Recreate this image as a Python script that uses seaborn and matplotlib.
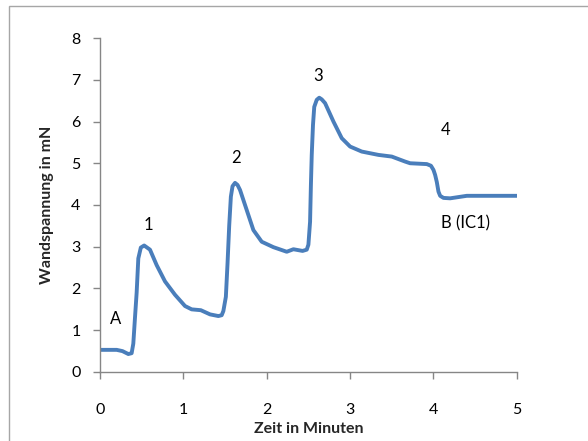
import matplotlib
matplotlib.use("Agg")
import matplotlib.pyplot as plt
import matplotlib.patches as patches
import seaborn as sns
import pandas as pd

# Wall tension trace over time
zeit = [0.00, 0.20, 0.27, 0.34, 0.38, 0.40, 0.42, 0.44, 0.46, 0.49, 0.53, 0.60,
        0.68, 0.78, 0.90, 1.02, 1.10, 1.21, 1.32, 1.42, 1.46, 1.48, 1.51, 1.53,
        1.55, 1.57, 1.59, 1.62, 1.65, 1.68, 1.76, 1.84, 1.94, 2.08, 2.24, 2.32,
        2.43, 2.48, 2.50, 2.52, 2.53, 2.54, 2.555, 2.57, 2.60, 2.63, 2.66, 2.70,
        2.80, 2.90, 3.00, 3.14, 3.34, 3.50, 3.66, 3.72, 3.92, 3.97, 4.00, 4.02,
        4.04, 4.06, 4.08, 4.12, 4.20, 4.40, 5.00]
spannung = [0.53, 0.53, 0.50, 0.43, 0.45, 0.68, 1.30, 1.90, 2.72, 2.98, 3.03, 2.93,
            2.56, 2.17, 1.85, 1.58, 1.50, 1.48, 1.38, 1.34, 1.36, 1.46, 1.80, 2.60,
            3.50, 4.20, 4.45, 4.53, 4.48, 4.36, 3.88, 3.40, 3.12, 2.99, 2.88, 2.94,
            2.90, 2.93, 3.05, 3.60, 4.48, 5.20, 5.92, 6.35, 6.52, 6.57, 6.53, 6.44,
            6.00, 5.60, 5.40, 5.28, 5.20, 5.16, 5.04, 5.00, 4.98, 4.94, 4.84, 4.72,
            4.55, 4.32, 4.22, 4.17, 4.16, 4.22, 4.22]

# Event annotations
marker_text = ["A", "1", "2", "3", "4", "B (IC1)"]
marker_x = [0.19, 0.58, 1.63, 2.62, 4.15, 4.38]
marker_y = [1.28, 3.52, 5.12, 7.08, 5.80, 3.55]

sns.set_theme(style="white")
plt.rcParams["font.family"] = ["Lato", "DejaVu Sans"]

df = pd.DataFrame({"Zeit": zeit, "Spannung": spannung})

fig = plt.figure(figsize=(5.88, 4.41), dpi=100)
ax = fig.add_axes([0.170, 0.1565, 0.709, 0.7573])

line_color = "#4A7EBB"
sns.lineplot(data=df, x="Zeit", y="Spannung", sort=False, ax=ax,
             color=line_color, linewidth=2.8, solid_joinstyle="round",
             solid_capstyle="round")

for t, x, y in zip(marker_text, marker_x, marker_y):
    ax.text(x, y, t, ha="center", va="center", fontsize=12, color="black")

ax.set_xlim(0, 5)
ax.set_ylim(0, 8)
ax.set_xticks(range(0, 6))
ax.set_yticks(range(0, 9))

axis_gray = "#868686"
for side in ["top", "right"]:
    ax.spines[side].set_visible(False)
for side in ["left", "bottom"]:
    ax.spines[side].set_color(axis_gray)
    ax.spines[side].set_linewidth(1.0)

ax.tick_params(axis="x", direction="out", length=5, width=1, color=axis_gray,
               pad=17, labelsize=11.5, labelcolor="black", bottom=True)
ax.tick_params(axis="y", direction="out", length=5, width=1, color=axis_gray,
               pad=9, labelsize=11.5, labelcolor="black", left=True)

ax.set_xlabel("Zeit in Minuten", fontsize=11.5, fontweight="bold", labelpad=4)
ax.set_ylabel("Wandspannung in mN", fontsize=11.5, fontweight="bold", labelpad=12)

# Chart frame
frame = patches.Rectangle((9 / 588, -0.1), 2.0, 1.0 + 0.1 - 6 / 441,
                          transform=fig.transFigure, fill=False,
                          edgecolor="#A6A6A6", linewidth=1.0)
fig.patches.append(frame)

fig.savefig("out.png", dpi=100)
